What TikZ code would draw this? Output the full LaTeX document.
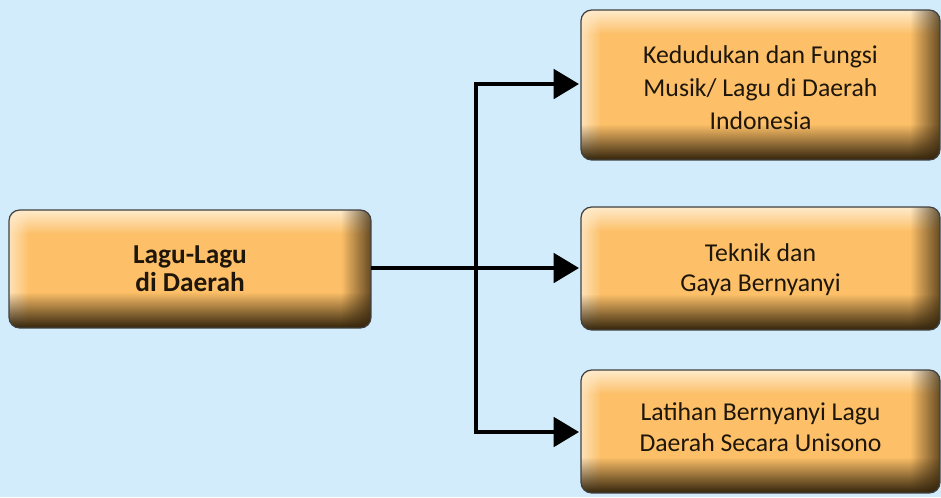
\documentclass[tikz,border=0pt]{standalone}
\usepackage{fontspec}
\setmainfont{Carlito}
\usetikzlibrary{arrows.meta,positioning,calc,fadings}
\definecolor{bg}{HTML}{D3ECFC}
\definecolor{boxfill}{HTML}{FDC068}
\definecolor{boxlight}{HTML}{FFEBCC}
\definecolor{boxdark}{HTML}{33240C}
\definecolor{boxtext}{HTML}{1E160A}
\tikzset{
  bevelbox/.style={rounded corners=8pt, draw=black!75, line width=0.9pt},
  boxlabel/.style={align=center, text=boxtext, font=\fontsize{19.3pt}{23.5pt}\selectfont},
  conn/.style={line width=3pt, -{Triangle[length=19pt,width=22pt]}},
  connline/.style={line width=3pt},
}
\newcommand{\bevel}[5]{% name, x1, y1, x2, y2 (px)
  \begin{scope}
    \clip[rounded corners=8pt] (#2,#3) rectangle (#4,#5);
    \fill[boxfill] (#2,#3) rectangle (#4,#5);
    \fill[boxlight, path fading=south] (#2,#3) rectangle (#4,#3+24);
    \fill[boxlight, path fading=east, opacity=0.8] (#2,#3) rectangle (#2+20,#5);
    \fill[boxdark, path fading=west, opacity=0.75] (#4-30,#3) rectangle (#4,#5);
    \fill[boxdark, path fading=north] (#2,#5-36) rectangle (#4,#5);
  \end{scope}
  \draw[bevelbox] (#2,#3) rectangle (#4,#5);
  \coordinate (#1) at ({(#2+#4)/2},{(#3+#5)/2});
}
\begin{document}
\begin{tikzpicture}[x=0.75pt,y=-0.75pt]
\useasboundingbox (0,0) rectangle (941,497);
\fill[bg] (0,0) rectangle (941,497);

\bevel{left}{9}{210}{371}{328}
\bevel{top}{581}{10}{940}{160}
\bevel{mid}{581}{207}{940}{330}
\bevel{bot}{581}{370}{940}{493}

\node[boxlabel, font=\fontsize{20.5pt}{21pt}\selectfont\bfseries] (leftlabel) at ($(left)+(0,0)$) {Lagu-Lagu\\di Daerah};
\node[boxlabel, font=\fontsize{19.3pt}{24.75pt}\selectfont] (toplabel) at ($(top)+(0,3)$) {Kedudukan dan Fungsi\\Musik/ Lagu di Daerah\\Indonesia};
\node[boxlabel, font=\fontsize{19.3pt}{22.5pt}\selectfont] (midlabel) at ($(mid)+(0,1.5)$) {Teknik dan\\Gaya Bernyanyi};
\node[boxlabel, font=\fontsize{19.3pt}{23.2pt}\selectfont] (botlabel) at ($(bot)+(0,-4)$) {Latihan Bernyanyi Lagu\\Daerah Secara Unisono};

\coordinate (leftout) at (371,268);
\coordinate (upper) at (476,84);
\coordinate (lower) at (476,432);
\coordinate (topin) at (579,84);
\coordinate (midin) at (579,268);
\coordinate (botin) at (579,432);
\draw[conn] (leftout) -- (midin);
\draw[connline] (upper) -- (lower);
\draw[conn] ([xshift=-1.5pt]upper) -- (topin);
\draw[conn] ([xshift=-1.5pt]lower) -- (botin);
\end{tikzpicture}
\end{document}
